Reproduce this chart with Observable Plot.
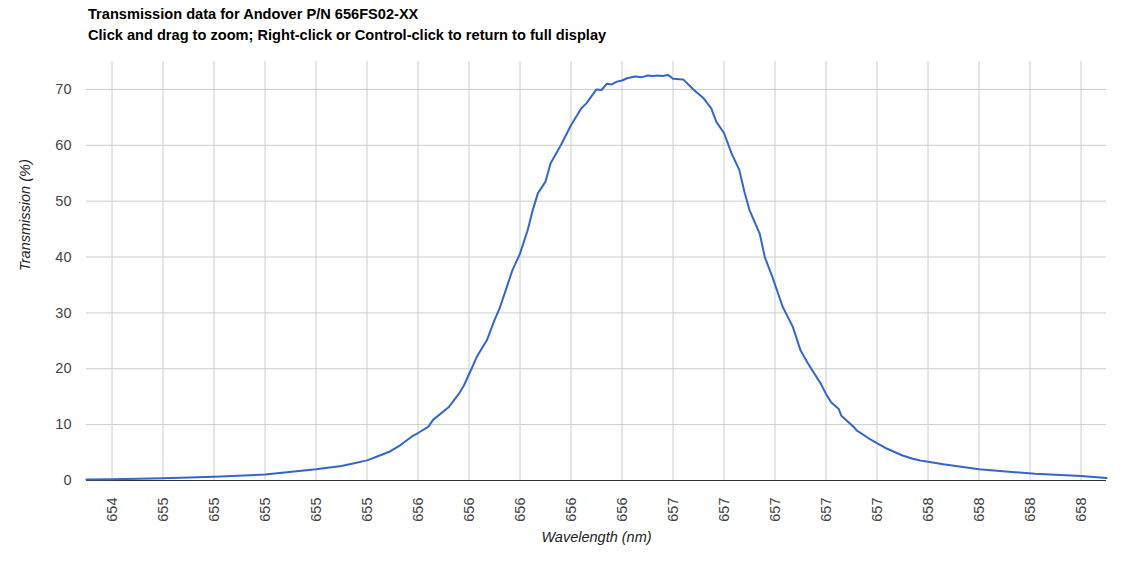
<!DOCTYPE html>
<html><head><meta charset="utf-8">
<script src="https://cdn.jsdelivr.net/npm/d3@7"></script>
<script src="https://cdn.jsdelivr.net/npm/@observablehq/plot@0.6"></script>
<style>
body{margin:0;background:#fff;font-family:Arial,"Liberation Sans",sans-serif;}
#wrap{position:relative;width:1129px;height:569px;overflow:hidden}
.t{position:absolute;left:88px;font-weight:bold;font-size:14.6px;color:#000;white-space:nowrap;line-height:15px}
#t1{top:7px} #t2{top:28px}
#chart{position:absolute;left:0;top:0}
</style></head><body>
<div id="wrap"><div id="chart"></div>
<div class="t" id="t1">Transmission data for Andover P/N 656FS02-XX</div>
<div class="t" id="t2">Click and drag to zoom; Right-click or Control-click to return to full display</div>
</div>
<script>
const titleLines = ["Transmission data for Andover P/N 656FS02-XX", "Click and drag to zoom; Right-click or Control-click to return to full display"];
const xLabel = "Wavelength (nm)";
const yLabel = "Transmission (%)";
const wavelength = [654.30, 654.40, 654.60, 654.80, 655.00, 655.20, 655.30, 655.35, 655.40, 655.44, 655.49, 655.53, 655.58, 655.60, 655.64, 655.66, 655.72, 655.76, 655.78, 655.81, 655.83, 655.87, 655.90, 655.92, 655.94, 655.97, 656.00, 656.03, 656.05, 656.07, 656.10, 656.12, 656.16, 656.20, 656.24, 656.26, 656.30, 656.32, 656.34, 656.36, 656.38, 656.40, 656.42, 656.45, 656.48, 656.50, 656.52, 656.54, 656.56, 656.58, 656.60, 656.64, 656.68, 656.72, 656.75, 656.77, 656.80, 656.83, 656.86, 656.88, 656.90, 656.94, 656.96, 656.99, 657.03, 657.07, 657.10, 657.13, 657.18, 657.20, 657.22, 657.25, 657.26, 657.31, 657.32, 657.37, 657.44, 657.50, 657.54, 657.57, 657.66, 657.80, 658.02, 658.20, 658.30];
const transmission = [0.18, 0.24, 0.42, 0.66, 1.07, 2.0, 2.6, 3.1, 3.6, 4.3, 5.2, 6.3, 8.0, 8.5, 9.6, 10.9, 13.1, 15.5, 17.0, 20.0, 22.1, 25.1, 28.7, 30.8, 33.5, 37.6, 40.6, 44.8, 48.4, 51.4, 53.5, 56.8, 60.0, 63.6, 66.6, 67.5, 70.0, 69.9, 71.0, 70.9, 71.4, 71.6, 72.0, 72.3, 72.2, 72.5, 72.4, 72.5, 72.4, 72.6, 71.9, 71.8, 70.0, 68.4, 66.6, 64.2, 62.2, 58.5, 55.6, 51.7, 48.4, 44.2, 40.0, 36.4, 31.1, 27.5, 23.3, 20.9, 17.3, 15.5, 14.0, 12.8, 11.6, 9.55, 8.96, 7.47, 5.68, 4.48, 3.89, 3.58, 2.9, 2.0, 1.2, 0.8, 0.45];
const xTicks = [654.4, 654.6, 654.8, 655.0, 655.2, 655.4, 655.6, 655.8, 656.0, 656.2, 656.4, 656.6, 656.8, 657.0, 657.2, 657.4, 657.6, 657.8, 658.0, 658.2];
const yTicks = [0, 10, 20, 30, 40, 50, 60, 70];

const data = wavelength.map((w, i) => ({w, t: transmission[i]}));

const chart = Plot.plot({
  width: 1129,
  height: 569,
  marginTop: 61,
  marginBottom: 89,
  marginLeft: 86,
  marginRight: 23,
  style: {fontFamily: "Arial, 'Liberation Sans', sans-serif", fontSize: "14.5px", color: "#444", background: "#fff"},
  x: {domain: [654.3, 658.3]},
  y: {domain: [0, 75]},
  marks: [
    Plot.gridX(xTicks, {stroke: "#ccc", strokeOpacity: 1}),
    Plot.gridY(yTicks, {stroke: "#ccc", strokeOpacity: 1}),
    Plot.axisY(yTicks, {tickSize: 0, tickPadding: 15, label: null, fill: "#444", fontSize: 14.5}),
    Plot.axisX(xTicks, {tickSize: 0, tickPadding: 17, tickRotate: -90, tickFormat: d => d.toFixed(0), label: null, fill: "#444", fontSize: 14.5}),
    Plot.ruleY([0], {stroke: "#333", strokeWidth: 1}),
    Plot.line(data, {x: "w", y: "t", stroke: "#3366cc", strokeWidth: 2, curve: "linear"}),
    Plot.text([yLabel], {frameAnchor: "left", dx: -61, rotate: -90, fontStyle: "italic", fill: "#222", fontSize: 14.5}),
    Plot.text([xLabel], {frameAnchor: "bottom", dy: 61, fontStyle: "italic", fill: "#222", fontSize: 14.5})
  ]
});
document.getElementById("chart").appendChild(chart);
</script>
</body></html>
